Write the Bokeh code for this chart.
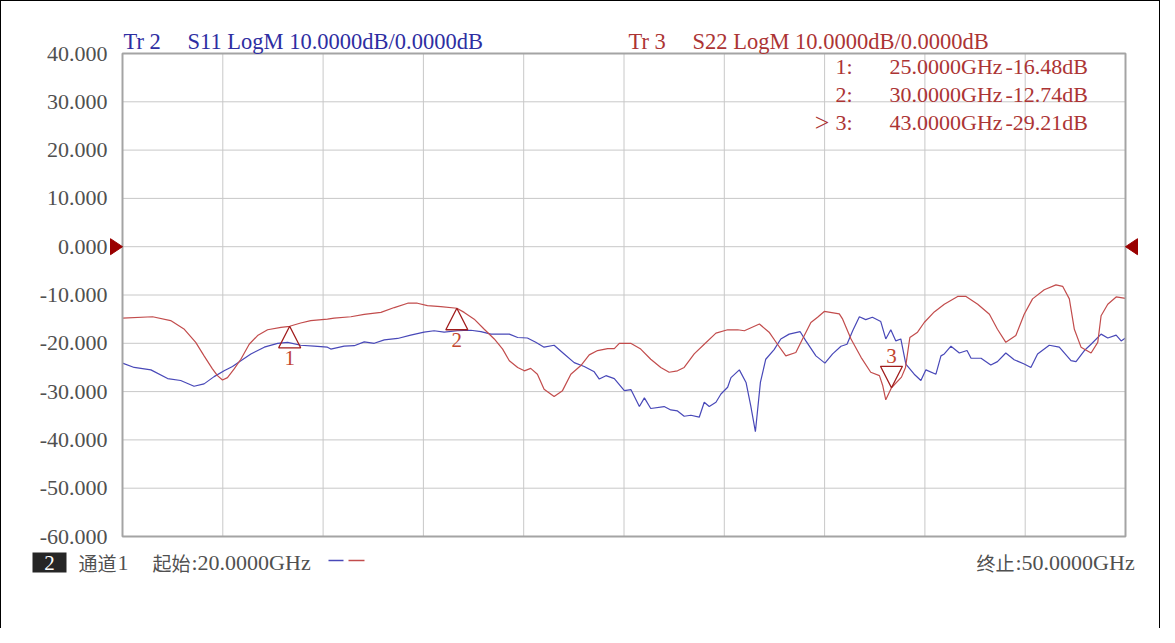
from bokeh.plotting import figure
from bokeh.models import Range1d
from bokeh.core.properties import value
from bokeh.embed import file_html
from bokeh.resources import INLINE

# ---------------- data ----------------
START_GHZ = 20.0
STOP_GHZ = 50.0
Y_MIN, Y_MAX = -60.0, 40.0
Y_TICKS = [-60, -50, -40, -30, -20, -10, 0, 10, 20, 30, 40]
X_GRID = [20, 23, 26, 29, 32, 35, 38, 41, 44, 47, 50]
REF_LEVEL = 0.0

# Tr 2  S11 (blue)
S11_F = [20.00, 20.35, 20.85, 21.35, 21.74, 22.14, 22.44, 22.74, 23.04, 23.29,
         23.54, 23.84, 24.24, 24.64, 24.94, 25.33, 25.73, 26.13, 26.23, 26.63,
         26.93, 27.23, 27.53, 27.83, 28.23, 28.62, 29.02, 29.32, 29.62, 30.02,
         30.42, 30.72, 31.02, 31.57, 31.82, 32.11, 32.36, 32.61, 32.91, 33.21,
         33.51, 33.81, 34.11, 34.26, 34.46, 34.71, 35.01, 35.21, 35.46, 35.61,
         35.80, 36.20, 36.40, 36.60, 36.80, 37.00, 37.25, 37.40, 37.55, 37.75,
         37.90, 38.10, 38.20, 38.45, 38.65, 38.79, 38.93, 39.08, 39.24, 39.49,
         39.69, 39.94, 40.27, 40.44, 40.74, 41.01, 41.24, 41.49, 41.67, 41.84,
         42.04, 42.23, 42.43, 42.68, 42.83, 42.98, 43.13, 43.28, 43.43, 43.68,
         43.88, 44.03, 44.33, 44.48, 44.58, 44.78, 45.03, 45.26, 45.38, 45.68,
         45.97, 46.17, 46.42, 46.67, 46.97, 47.17, 47.37, 47.72, 48.02, 48.37,
         48.52, 48.77, 48.97, 49.27, 49.47, 49.72, 49.87, 50.00]
S11_DB = [-24.1, -25.0, -25.5, -27.3, -27.7, -28.9, -28.4, -26.9, -25.7, -24.8,
          -23.6, -22.2, -20.8, -20.0, -19.8, -20.4, -20.6, -20.8, -21.2, -20.6,
          -20.5, -19.7, -20.0, -19.3, -19.0, -18.3, -17.7, -17.4, -17.7, -17.4,
          -17.3, -17.6, -18.1, -18.1, -18.8, -18.9, -19.8, -20.8, -20.4, -22.2,
          -24.0, -24.8, -25.9, -27.4, -26.7, -27.3, -29.8, -29.6, -33.1, -31.3,
          -33.5, -33.1, -33.8, -34.0, -35.1, -34.9, -35.3, -32.2, -33.1, -32.2,
          -30.5, -29.1, -27.1, -25.5, -28.1, -32.9, -38.3, -28.1, -23.3, -21.3,
          -19.1, -18.1, -17.6, -19.5, -22.6, -24.1, -22.2, -20.6, -20.2, -17.4,
          -14.5, -15.1, -14.6, -15.5, -19.1, -17.2, -19.5, -19.1, -24.3, -26.4,
          -27.7, -25.5, -26.4, -22.6, -22.2, -20.6, -22.0, -21.5, -23.1, -23.1,
          -24.5, -23.8, -22.0, -23.4, -24.3, -25.0, -22.2, -20.4, -20.8, -23.6,
          -23.8, -21.5, -20.2, -18.1, -18.9, -18.3, -19.5, -18.9]

# Tr 3  S22 (red)
S22_F = [20.00, 20.90, 21.44, 21.85, 22.19, 22.44, 22.69, 22.84, 22.99, 23.14,
         23.34, 23.54, 23.79, 24.04, 24.34, 24.74, 25.00, 25.33, 25.63, 26.13,
         26.33, 26.83, 27.23, 27.73, 28.13, 28.53, 28.82, 29.12, 29.52, 30.00,
         30.22, 30.52, 30.82, 31.12, 31.37, 31.57, 31.82, 32.02, 32.21, 32.41,
         32.61, 32.91, 33.16, 33.41, 33.71, 33.96, 34.21, 34.51, 34.71, 34.86,
         35.20, 35.50, 35.80, 36.10, 36.35, 36.60, 36.80, 37.10, 37.40, 37.75,
         38.10, 38.40, 38.60, 39.05, 39.34, 39.59, 39.84, 40.14, 40.34, 40.59,
         40.79, 40.99, 41.44, 41.54, 41.79, 42.09, 42.38, 42.64, 42.74, 42.83,
         43.00, 43.30, 43.42, 43.55, 43.78, 43.98, 44.28, 44.58, 44.98, 45.23,
         45.58, 45.93, 46.17, 46.42, 46.72, 46.97, 47.22, 47.57, 47.92, 48.12,
         48.32, 48.47, 48.67, 48.97, 49.17, 49.27, 49.47, 49.72, 50.00]
S22_DB = [-14.8, -14.5, -15.3, -17.1, -19.8, -22.6, -25.3, -26.7, -27.6, -27.1,
          -25.3, -23.3, -20.2, -18.4, -17.2, -16.7, -16.48, -15.8, -15.3, -15.0,
          -14.8, -14.5, -14.0, -13.6, -12.6, -11.7, -11.7, -12.2, -12.4, -12.74,
          -13.6, -15.0, -17.1, -19.1, -21.2, -23.6, -25.0, -25.7, -25.2, -26.4,
          -29.5, -31.0, -29.8, -26.4, -24.6, -22.4, -21.5, -21.1, -21.1, -20.0,
          -20.0, -21.2, -23.3, -25.0, -26.0, -25.7, -25.0, -22.2, -20.2, -17.9,
          -17.2, -17.2, -17.4, -16.0, -17.7, -20.2, -22.6, -21.9, -19.1, -15.7,
          -14.6, -13.4, -13.9, -15.0, -19.1, -22.9, -26.0, -26.7, -28.8, -31.7,
          -29.21, -27.0, -25.0, -18.8, -17.7, -15.7, -13.5, -11.9, -10.3, -10.3,
          -11.9, -14.0, -17.1, -19.8, -18.4, -14.0, -10.8, -8.9, -7.9, -8.2,
          -10.8, -17.1, -20.8, -22.0, -19.8, -14.3, -11.9, -10.4, -10.7]

MARKER_ID = [1, 2, 3]
MARKER_F = [25.0, 30.0, 43.0]
MARKER_DB = [-16.48, -12.74, -29.21]
ACTIVE_MARKER = 3

S11_TITLE = ["Tr 2", "S11 LogM 10.0000dB/0.0000dB"]
S22_TITLE = ["Tr 3", "S22 LogM 10.0000dB/0.0000dB"]
CHANNEL_NO = "2"
CHANNEL_TXT = ["通道", "1"]
START_TXT = ["起始", ":%.4fGHz" % START_GHZ]
STOP_TXT = ["终止", ":%.4fGHz" % STOP_GHZ]

# ---------------- layout / styles ----------------
W, H = 1160, 628
AX_L, AX_R = 121, 1124      # canvas px of start / stop frequency
AX_T, AX_B = 52, 535        # canvas px of Y_MAX / Y_MIN
XPP = (AX_R - AX_L) / (STOP_GHZ - START_GHZ)
YPP = (AX_B - AX_T) / (Y_MAX - Y_MIN)

SERIF = "Liberation Serif"
CJK = "Noto Sans CJK SC"
BLUE_LINE = "#4848b8"
RED_LINE = "#c24c4c"
BLUE_TXT = "#2e2ea2"
RED_TXT = "#ac3434"
MARK_COL = "#a01c1c"
MARK_TXT = "#c2452f"
GRAY_TXT = "#505050"
GRID_COL = "#c8c8c8"
FRAME_COL = "#a4a4a4"


def cx(px):
    return START_GHZ + (px - AX_L) / XPP


def cy(py):
    return Y_MAX - (py - AX_T) / YPP


p = figure(width=W, height=H, output_backend="svg", toolbar_location=None,
           x_range=Range1d(cx(0), cx(W)), y_range=Range1d(cy(H), cy(0)),
           x_axis_location=None, y_axis_location=None,
           min_border=0, min_border_left=0, min_border_right=0,
           min_border_top=0, min_border_bottom=0)
p.styles = {"border-top": "1px solid black", "border-left": "1px solid black",
            "border-right": "1px solid black"}
p.background_fill_color = "white"
p.border_fill_color = "white"
p.outline_line_color = None
p.grid.visible = False

# grid
n = len(X_GRID)
p.segment(x0=X_GRID, y0=[Y_MIN] * n, x1=X_GRID, y1=[Y_MAX] * n,
          line_color=GRID_COL, line_width=1)
m = len(Y_TICKS)
p.segment(x0=[START_GHZ] * m, y0=Y_TICKS, x1=[STOP_GHZ] * m, y1=Y_TICKS,
          line_color=GRID_COL, line_width=1)

# y tick labels
p.text(x=[START_GHZ] * m, y=Y_TICKS, x_offset=-15,
       text=["%.3f" % v for v in Y_TICKS], text_align="right", text_baseline="middle",
       text_font=value(SERIF), text_font_size="22px", text_color=GRAY_TXT)

# traces
p.line(S11_F, S11_DB, line_color=BLUE_LINE, line_width=1.2)
p.line(S22_F, S22_DB, line_color=RED_LINE, line_width=1.2)

# frame
p.quad(left=[START_GHZ], right=[STOP_GHZ], bottom=[Y_MIN], top=[Y_MAX],
       fill_color=None, line_color=FRAME_COL, line_width=2)

# marker triangles (apex on the trace value)
HALF_W = 11 / XPP
TRI_H = 21.5 / YPP
LBL_OFF = 32 / YPP
xs, ys, lx, ly = [], [], [], []
for mid, f, db in zip(MARKER_ID, MARKER_F, MARKER_DB):
    s = 1 if mid == ACTIVE_MARKER else -1
    xs.append([f - HALF_W, f + HALF_W, f])
    ys.append([db + s * TRI_H, db + s * TRI_H, db])
    lx.append(f)
    ly.append(db + s * LBL_OFF)
p.patches(xs, ys, fill_color=None, line_color=MARK_COL, line_width=1.3)
p.text(x=lx, y=ly, text=[str(i) for i in MARKER_ID], text_align="center",
       text_baseline="middle", text_font=value(SERIF), text_font_size="21px",
       text_color=MARK_TXT)

# reference level arrows at 0 dB
AW, AH = 12 / XPP, 8 / YPP
p.patches([[START_GHZ - AW, START_GHZ, START_GHZ - AW], [STOP_GHZ + AW, STOP_GHZ, STOP_GHZ + AW]],
          [[REF_LEVEL + AH, REF_LEVEL, REF_LEVEL - AH], [REF_LEVEL + AH, REF_LEVEL, REF_LEVEL - AH]],
          fill_color="#9a0000", line_color="#9a0000", line_width=1)


def txt(px, py, s, color, font=SERIF, size="22px", align="left", baseline="middle"):
    p.text(x=[cx(px)], y=[cy(py)], text=[s], text_color=color, text_font=value(font),
           text_font_size=size, text_align=align, text_baseline=baseline)


# headers
HEAD_Y = 40
txt(122, HEAD_Y, S11_TITLE[0], BLUE_TXT, size="22.5px")
txt(186, HEAD_Y, S11_TITLE[1], BLUE_TXT, size="22.5px")
txt(627, HEAD_Y, S22_TITLE[0], RED_TXT, size="22.5px")
txt(691, HEAD_Y, S22_TITLE[1], RED_TXT, size="22.5px")

# marker readouts
for i, (mid, f, db) in enumerate(zip(MARKER_ID, MARKER_F, MARKER_DB)):
    yt = 65 + i * 28
    txt(834, yt, "%d:" % mid, RED_TXT)
    txt(888, yt, "%.4fGHz" % f, RED_TXT)
    txt(1004, yt, "%.2fdB" % db, RED_TXT)
    if mid == ACTIVE_MARKER:
        txt(828, yt, ">", RED_TXT, size="26px", align="right")

# bottom status row
ROW = 561
p.quad(left=[cx(31)], right=[cx(65)], top=[cy(551)], bottom=[cy(571)],
       fill_color="#262626", line_color=None)
txt(48, ROW, CHANNEL_NO, "white", align="center", size="21px")
txt(77, ROW, CHANNEL_TXT[0], GRAY_TXT, font=CJK, size="19px")
txt(116, ROW, CHANNEL_TXT[1], GRAY_TXT)
txt(151, ROW, START_TXT[0], GRAY_TXT, font=CJK, size="19px")
txt(190, ROW, START_TXT[1], GRAY_TXT)
p.segment(x0=[cx(327), cx(347)], y0=[cy(559)] * 2, x1=[cx(342), cx(363)], y1=[cy(559)] * 2,
          line_color=[BLUE_LINE, RED_LINE], line_width=1.5)
txt(1013, ROW, STOP_TXT[0], GRAY_TXT, font=CJK, size="19px", align="right")
txt(1014, ROW, STOP_TXT[1], GRAY_TXT)

open("out.html", "w").write(file_html(p, INLINE))
